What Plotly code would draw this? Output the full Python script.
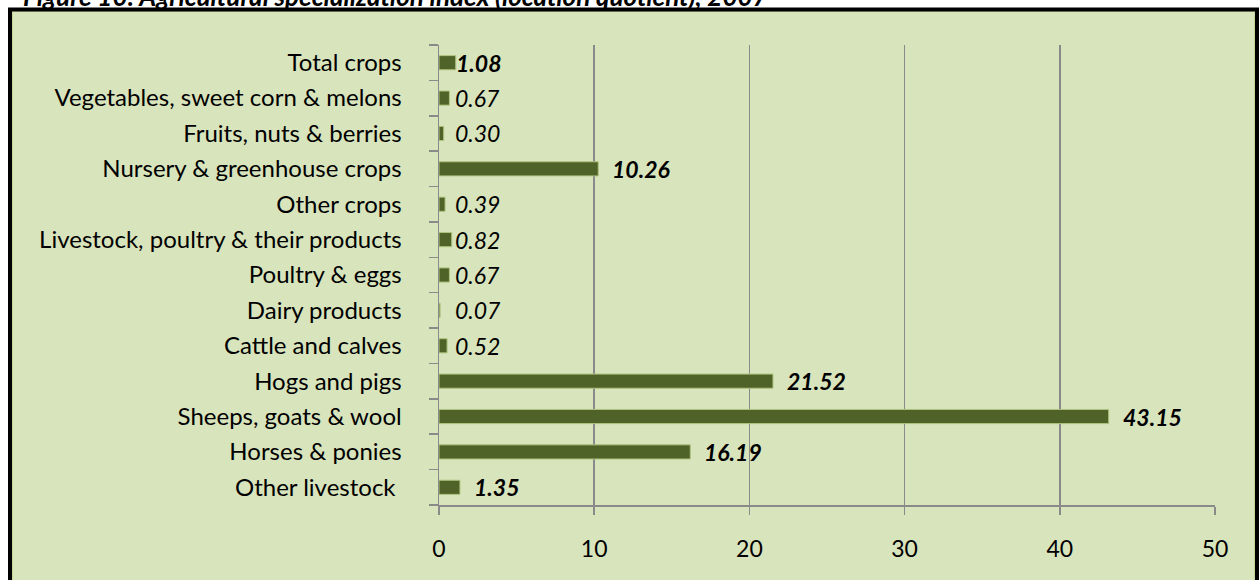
import plotly.graph_objects as go
import numpy as np

categories = [
    "Total crops",
    "Vegetables, sweet corn & melons",
    "Fruits, nuts & berries",
    "Nursery & greenhouse crops",
    "Other crops",
    "Livestock, poultry & their products",
    "Poultry & eggs",
    "Dairy products",
    "Cattle and calves",
    "Hogs and pigs",
    "Sheeps, goats & wool",
    "Horses & ponies",
    "Other livestock ",
]
values = [1.08, 0.67, 0.30, 10.26, 0.39, 0.82, 0.67, 0.07, 0.52, 21.52, 43.15, 16.19, 1.35]
x_ticks = [0, 10, 20, 30, 40, 50]
title_text = "Figure 10: Agricultural specialization index (location quotient), 2007"

W, H = 1259, 580
L, R, T, B = 439, 1215, 45, 505  # plot area pixels
pw, ph = R - L, B - T

def px_x(p):
    return (p - L) / pw

def px_y(p):
    return (B - p) / ph

FONT = "Lato"
BAR = "#4F6228"
BG = "#D8E4BC"
GRID = "#8A8A8A"

pos = list(range(len(categories)))

fig = go.Figure()
fig.add_trace(go.Bar(
    x=values, y=pos, orientation="h", width=0.4,
    marker=dict(color=BAR, line=dict(color="#AFC47F", width=1)),
    hoverinfo="skip",
))

for i, v in enumerate(values):
    txt = f"{v:.2f}"
    txt = f"<b><i>{txt}</i></b>" if v > 1 else f"<i>{txt}</i>"
    fig.add_annotation(
        x=max(v, 1.0), y=i, xref="x", yref="y",
        text=txt, showarrow=False, xanchor="left", yanchor="middle",
        xshift=-2 if v < 1.1 else 12,
        font=dict(family=FONT, size=23, color="black"),
    )

fig.add_annotation(
    x=px_x(22), y=px_y(13), xref="paper", yref="paper",
    text=f"<b><i>{title_text}</i></b>", showarrow=False,
    xanchor="left", yanchor="bottom", borderpad=0,
    font=dict(family=FONT, size=26, color="black"),
)

# chart area frame: fill below, border above
fig.add_shape(type="rect", xref="paper", yref="paper", layer="below",
              x0=px_x(10.5), x1=px_x(1256.5), y0=px_y(640), y1=px_y(9.5),
              fillcolor=BG, line=dict(width=0))
fig.add_shape(type="rect", xref="paper", yref="paper", layer="above",
              x0=px_x(12.5), x1=px_x(1254.5), y0=px_y(640), y1=px_y(11.5),
              fillcolor="rgba(0,0,0,0)", line=dict(color="#C4D79B", width=1))
fig.add_shape(type="rect", xref="paper", yref="paper", layer="above",
              x0=px_x(10), x1=px_x(1257), y0=px_y(640), y1=px_y(9.5),
              fillcolor="rgba(0,0,0,0)", line=dict(color="black", width=4))

fig.update_layout(
    width=W, height=H,
    margin=dict(l=L, r=W - R, t=T, b=H - B, pad=0),
    paper_bgcolor="white",
    plot_bgcolor="rgba(0,0,0,0)",
    showlegend=False,
    bargap=0.6,
    xaxis=dict(
        range=[0, 50], tickvals=x_ticks, ticktext=[str(t) for t in x_ticks],
        showgrid=True, gridcolor=GRID, gridwidth=1.5,
        showline=True, linecolor=GRID, linewidth=1.5,
        ticks="outside", ticklen=8, tickcolor=GRID, tickwidth=1.5,
        ticklabelstandoff=15,
        tickfont=dict(family=FONT, size=23, color="black"),
        zeroline=False, fixedrange=True,
    ),
    yaxis=dict(
        range=[len(categories) - 0.5, -0.5],
        tickvals=pos, ticktext=categories,
        showgrid=False, zeroline=False,
        showline=True, linecolor=GRID, linewidth=1.5,
        ticks="outside", ticklen=31, tickcolor="rgba(0,0,0,0)",
        tickfont=dict(family=FONT, size=24, color="black"),
        minor=dict(tick0=0.5, dtick=1, ticks="outside", ticklen=9,
                   tickcolor=GRID, tickwidth=1.5, showgrid=False),
        fixedrange=True,
    ),
)

fig.write_html(
    "out.html",
    config={"displayModeBar": False, "staticPlot": True},
    post_script="document.body.style.margin='0px';document.body.style.overflow='hidden';",
)
